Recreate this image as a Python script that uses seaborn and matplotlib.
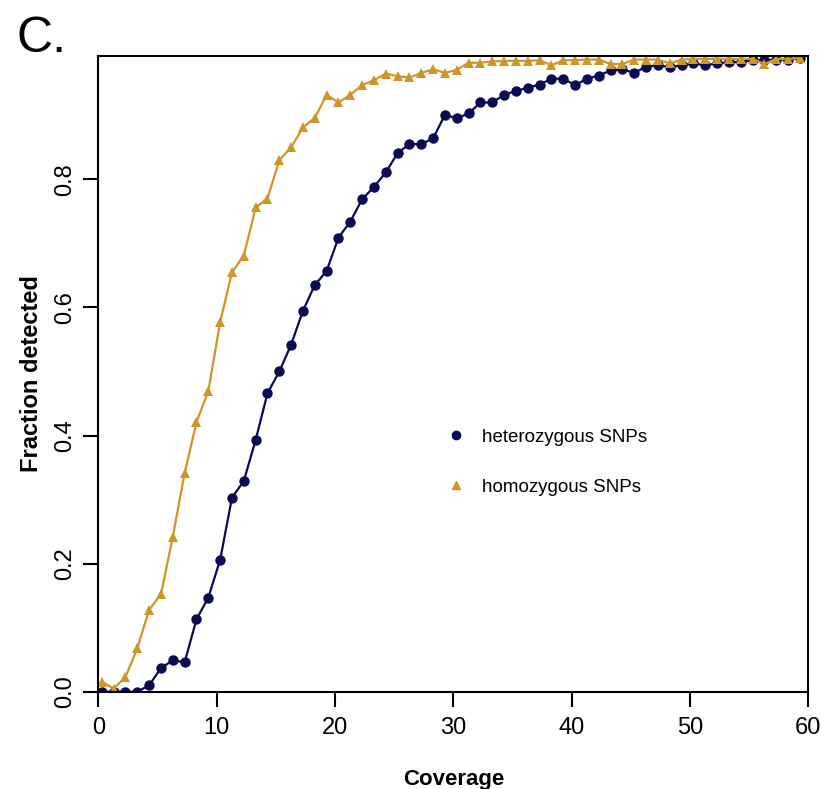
import numpy as np
import pandas as pd
import seaborn as sns
import matplotlib.pyplot as plt
from matplotlib.lines import Line2D

sns.set_style("white")
plt.rcParams['font.family'] = ['Liberation Sans', 'DejaVu Sans']
plt.rcParams['text.color'] = 'black'
plt.rcParams['axes.labelcolor'] = 'black'
plt.rcParams['xtick.color'] = 'black'
plt.rcParams['ytick.color'] = 'black'

# coverage positions (one point per coverage step)
coverage = np.arange(60) + 0.3

hetero = [0.0, 0.0, 0.0, 0.0, 0.01, 0.037, 0.049, 0.046, 0.113, 0.147,
          0.206, 0.303, 0.329, 0.393, 0.466, 0.50, 0.542, 0.595, 0.635, 0.657,
          0.709, 0.734, 0.769, 0.788, 0.811, 0.841, 0.855, 0.855, 0.864, 0.901,
          0.895, 0.903, 0.92, 0.92, 0.932, 0.938, 0.943, 0.948, 0.957, 0.957,
          0.947, 0.957, 0.962, 0.970, 0.972, 0.966, 0.976, 0.978, 0.975, 0.978,
          0.981, 0.978, 0.981, 0.983, 0.983, 0.986, 0.986, 0.987, 0.987, 0.989]

homo = [0.0156, 0.005, 0.023, 0.068, 0.128, 0.152, 0.242, 0.341, 0.421, 0.469,
        0.577, 0.655, 0.681, 0.756, 0.770, 0.830, 0.850, 0.881, 0.896, 0.932,
        0.920, 0.932, 0.947, 0.955, 0.965, 0.961, 0.959, 0.966, 0.972, 0.966,
        0.971, 0.982, 0.982, 0.984, 0.985, 0.985, 0.985, 0.986, 0.978, 0.986,
        0.986, 0.987, 0.987, 0.980, 0.980, 0.987, 0.987, 0.987, 0.981, 0.987,
        0.988, 0.988, 0.988, 0.988, 0.988, 0.988, 0.980, 0.988, 0.988, 0.989]

labels = ['heterozygous SNPs', 'homozygous SNPs']
colors = ['#0b0b55', '#cf9527']

df = pd.DataFrame({
    'coverage': np.concatenate([coverage, coverage]),
    'fraction': hetero + homo,
    'type': [labels[0]] * len(hetero) + [labels[1]] * len(homo),
})

fig = plt.figure(figsize=(8.21, 7.89), dpi=100)
ax = fig.add_axes([0.1197, 0.1233, 0.8648, 0.8057])

sns.lineplot(data=df, x='coverage', y='fraction', hue='type', style='type',
             markers=['o', '^'], dashes=False, palette=colors,
             markersize=7.5, markeredgewidth=0, linewidth=1.6, ax=ax)

ax.set_xlim(0, 60)
ax.set_ylim(0, 0.9925)
ax.set_xticks(range(0, 61, 10))
ax.set_yticks([0, 0.2, 0.4, 0.6, 0.8])
ax.set_yticklabels(['0.0', '0.2', '0.4', '0.6', '0.8'], rotation=90, va='center')
ax.tick_params(axis='both', direction='out', length=11, width=1.5,
               labelsize=17, bottom=True, left=True, pad=7)
ax.tick_params(axis='y', pad=5)
for s in ax.spines.values():
    s.set_color('black')
    s.set_linewidth(1.5)

ax.set_xlabel('Coverage', fontsize=16, fontweight='bold', labelpad=22)
ax.set_ylabel('Fraction detected', fontsize=17, fontweight='bold', labelpad=8)

handles = [Line2D([], [], marker='o', color=colors[0], linestyle='none', markersize=6),
           Line2D([], [], marker='^', color=colors[1], linestyle='none', markersize=6)]
ax.legend(handles, labels, frameon=False, fontsize=13.5, loc='center left',
          bbox_to_anchor=(0.49, 0.361), borderaxespad=0, borderpad=0,
          handlelength=1.0, handletextpad=0.9, labelspacing=1.75)

fig.text(0.02, 0.951, 'C.', fontsize=36, va='center', ha='left')

fig.savefig('out.png', dpi=100)
